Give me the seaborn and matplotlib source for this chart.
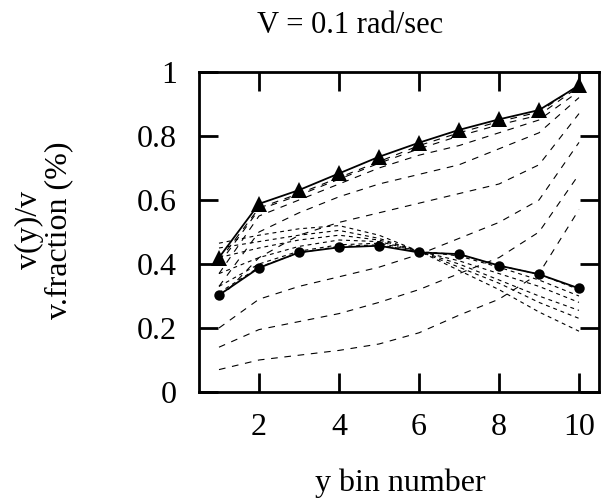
import numpy as np
import pandas as pd
import matplotlib
matplotlib.use("Agg")
import matplotlib.pyplot as plt
import seaborn as sns

# ---- data ----
bins = [1, 2, 3, 4, 5, 6, 7, 8, 9, 10]

# v(y)/v profiles at successive times (long dashes)
vy_1 = [0.07, 0.10, 0.115, 0.13, 0.15, 0.185, 0.24, 0.29, 0.37, 0.57]
vy_2 = [0.14, 0.195, 0.22, 0.245, 0.28, 0.32, 0.37, 0.42, 0.50, 0.68]
vy_3 = [0.20, 0.29, 0.33, 0.36, 0.39, 0.43, 0.48, 0.53, 0.60, 0.78]
vy_4 = [0.29, 0.42, 0.49, 0.53, 0.56, 0.59, 0.62, 0.65, 0.71, 0.87]
vy_5 = [0.33, 0.50, 0.56, 0.61, 0.65, 0.68, 0.71, 0.76, 0.81, 0.92]
vy_6 = [0.37, 0.55, 0.60, 0.65, 0.70, 0.74, 0.77, 0.81, 0.85, 0.94]
vy_7 = [0.40, 0.57, 0.615, 0.665, 0.715, 0.76, 0.80, 0.835, 0.865, 0.955]
vy_8 = [0.41, 0.575, 0.62, 0.67, 0.72, 0.77, 0.81, 0.845, 0.875, 0.96]
vy_final = [0.42, 0.588, 0.631, 0.683, 0.735, 0.779, 0.819, 0.852, 0.881, 0.958]

# volume fraction profiles at successive times (short dashes)
vf_1 = [0.465, 0.49, 0.51, 0.52, 0.49, 0.44, 0.38, 0.32, 0.25, 0.19]
vf_2 = [0.45, 0.47, 0.49, 0.505, 0.48, 0.44, 0.39, 0.34, 0.28, 0.23]
vf_3 = [0.42, 0.45, 0.475, 0.49, 0.475, 0.44, 0.40, 0.35, 0.30, 0.255]
vf_4 = [0.37, 0.42, 0.455, 0.475, 0.47, 0.44, 0.41, 0.37, 0.33, 0.28]
vf_5 = [0.33, 0.40, 0.44, 0.46, 0.465, 0.44, 0.425, 0.39, 0.35, 0.30]
vf_6 = [0.31, 0.39, 0.435, 0.455, 0.46, 0.438, 0.43, 0.395, 0.368, 0.32]
vf_final = [0.303, 0.388, 0.436, 0.452, 0.457, 0.436, 0.431, 0.395, 0.368, 0.324]

x_ticks = [2, 4, 6, 8, 10]
y_ticks = [0, 0.2, 0.4, 0.6, 0.8, 1.0]
y_tick_labels = ["0", "0.2", "0.4", "0.6", "0.8", "1"]

# ---- style ----
sns.set_theme(style="white")
plt.rcParams["font.family"] = ["Liberation Serif", "DejaVu Serif"]
plt.rcParams["mathtext.fontset"] = "stix"

fig = plt.figure(figsize=(6.04, 5.0), dpi=100)
ax = fig.add_axes([199 / 604, (500 - 392) / 500, 400 / 604, 320 / 500])

long_dash = (0, (6, 6))
short_dash = (0, (3.5, 3.5))

for ys in [vy_1, vy_2, vy_3, vy_4, vy_5, vy_6, vy_7, vy_8]:
    sns.lineplot(x=bins, y=ys, ax=ax, color="black", lw=0.8,
                 linestyle=long_dash, legend=False)
for ys in [vf_1, vf_2, vf_3, vf_4, vf_5, vf_6]:
    sns.lineplot(x=bins, y=ys, ax=ax, color="black", lw=0.8,
                 linestyle=short_dash, legend=False)

sns.lineplot(x=bins, y=vy_final, ax=ax, color="black", lw=1.3,
             marker="^", markersize=12, markeredgewidth=0, legend=False)
sns.lineplot(x=bins, y=vf_final, ax=ax, color="black", lw=1.3,
             marker="o", markersize=7.5, markeredgewidth=0, legend=False)

ax.set_xlim(0.5, 10.5)
ax.set_ylim(0, 1)
ax.set_xticks(x_ticks)
ax.set_xticklabels([str(t) for t in x_ticks])
ax.set_yticks(y_ticks)
ax.set_yticklabels(y_tick_labels)

for sp in ax.spines.values():
    sp.set_visible(True)
    sp.set_color("black")
    sp.set_linewidth(2.0)

ax.tick_params(axis="both", which="major", direction="in", length=13.5,
               width=2.0, color="black", labelsize=23,
               top=True, right=True, bottom=True, left=True,
               labelcolor="black")
ax.tick_params(axis="x", pad=15)
ax.tick_params(axis="y", pad=16)
ax.set_xlabel("")
ax.set_ylabel("")
ax.grid(False)

fig.text(400 / 604, 1 - 491 / 500, "y bin number", ha="center",
         va="baseline", fontsize=23, color="black")
fig.text(350 / 604, 1 - 33 / 500, "V = 0.1 rad/sec", ha="center",
         va="baseline", fontsize=22, color="black")
fig.text(44 / 604, 1 - 230 / 500, "v(y)/v\nv.fraction (%)", ha="center",
         va="center", rotation=90, fontsize=23, color="black",
         multialignment="center", linespacing=1.0)

fig.savefig("out.png", dpi=100)
